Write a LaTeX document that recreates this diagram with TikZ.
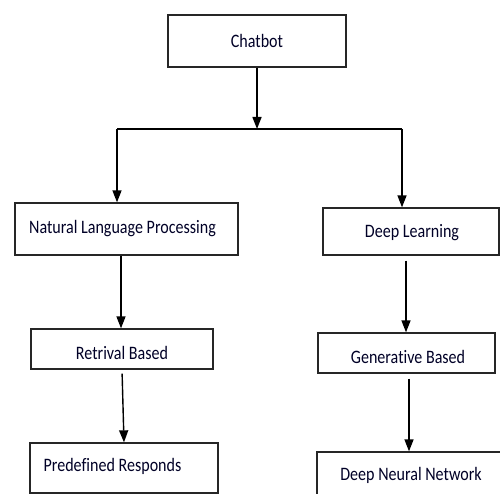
\documentclass[tikz,border=0pt]{standalone}
\usepackage{fontspec}
\setmainfont[Ligatures=NoCommon]{Carlito}
\usetikzlibrary{arrows.meta}
\newcommand{\sq}[1]{\scalebox{0.845}[1]{#1}}
\begin{document}
\begin{tikzpicture}[x=1pt,y=-1pt,
  box/.style={draw=black!85,line width=1.3pt,minimum width=#1,inner sep=0pt},
  lbl/.style={font=\fontsize{19}{22}\selectfont,inner sep=0pt,text=black!85!blue},
  arr/.style={-{Triangle[length=12pt,width=9pt]},line width=1.4pt}]
\useasboundingbox (0,0) rectangle (500,494);
\clip (0,0) rectangle (500,494);
% boxes
\node[box=178pt,minimum height=52pt] (chat) at (257,41) {};
\node[box=223pt,minimum height=52pt] (nlp) at (126.5,229) {};
\node[box=182pt,minimum height=40pt] (ret) at (122,349) {};
\node[box=188pt,minimum height=50pt] (pre) at (124,468) {};
\node[box=176pt,minimum height=47pt] (dl) at (411,231.5) {};
\node[box=177pt,minimum height=40pt] (gen) at (406.5,353) {};
\node[box=200pt,minimum height=60pt] (dnn) at (417,482) {};
% labels
\node[lbl] (tchat) at (257,41) {\sq{Chatbot}};
\node[lbl] (tnlp) at (122.5,229) {\sq{Natural Language Processing}};
\node[lbl] (tret) at (122,353) {\sq{Retrival Based}};
\node[lbl] (tpre) at (112.5,466) {\sq{Predefined Responds}};
\node[lbl] (tdl) at (412,233) {\sq{Deep Learning}};
\node[lbl] (tgen) at (408,357) {\sq{Generative Based}};
\node[lbl] (tdnn) at (411,475) {\sq{Deep Neural Network}};
% connectors
\coordinate (j) at (257,129);
\coordinate (jl) at (117,129);
\coordinate (jr) at (402,129);
\draw[arr] (chat.south) -- (j);
\draw[line width=1.4pt] (jl) -- (jr);
\draw[arr] (jl) -- (jl |- nlp.north);
\draw[arr] (jr) -- (jr |- dl.north);
\draw[arr] (nlp.south -| 121,0) -- (ret.north -| 121,0);
\draw[arr,shorten <=4pt] (ret.south) -- (pre.north);
\draw[arr,shorten <=5pt] (dl.south -| 406,0) -- (gen.north -| 406,0);
\draw[arr,shorten <=5pt] (gen.south -| 409,0) -- (dnn.north -| 409,0);
\end{tikzpicture}
\end{document}
